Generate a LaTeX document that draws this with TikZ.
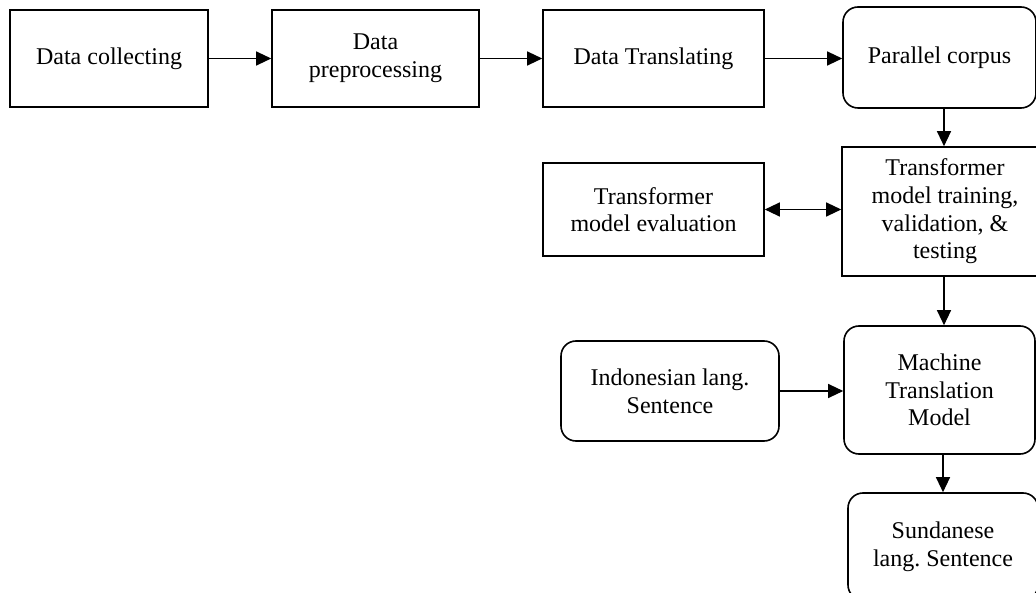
\documentclass[tikz,border=0pt]{standalone}
\usepackage{fontspec}
\setmainfont{Liberation Serif}
\usetikzlibrary{arrows.meta}
\frenchspacing
\begin{document}
\begin{tikzpicture}[x=1pt,y=-1pt,
  box/.style={draw, line width=1.6pt, align=center, inner sep=0pt,
    font=\fontsize{24}{27.6}\selectfont},
  rbox/.style={box, rounded corners=15pt},
  arr/.style={line width=1.2pt, -{Triangle[length=15pt,width=14pt]}},
  darr/.style={line width=1.2pt, {Triangle[length=15pt,width=14pt]}-{Triangle[length=15pt,width=14pt]}}]
\useasboundingbox (0,0) rectangle (1036,593);

% pipeline along the top row
\node[box, minimum width=198pt, minimum height=97pt] (collect) at (109,58.5) {Data collecting};
\node[box, minimum width=207pt, minimum height=97pt] (prep) at (375.5,58.5) {Data\\preprocessing};
\node[box, minimum width=221pt, minimum height=97pt] (transl) at (653.5,58.5) {Data Translating};
\node[rbox, minimum width=193pt, minimum height=101pt] (corpus) at (939.5,57.5) {Parallel corpus};

% training and evaluation
\node[box, minimum width=206pt, minimum height=129pt] (train) at (945,211.5)
  {Transformer\\model training,\\validation, \&\\testing};
\node[box, minimum width=221pt, minimum height=93pt] (eval) at (653.5,209.5)
  {Transformer\\model evaluation};

% translation use
\node[rbox, minimum width=191pt, minimum height=128pt] (mt) at (939.5,390)
  {Machine\\Translation\\Model};
\node[rbox, minimum width=218pt, minimum height=100pt] (indo) at (670,391)
  {Indonesian lang.\\Sentence};
\node[rbox, minimum width=190pt, minimum height=107pt] (sund) at (943,546.5)
  {Sundanese\\lang. Sentence};

% connectors
\draw[arr] (collect.east) -- (prep.west |- collect.east);
\draw[arr] (prep.east) -- (transl.west |- prep.east);
\draw[arr] (transl.east) -- (corpus.west |- transl.east);
\draw[arr] (corpus.south -| 944,0) -- (train.north -| 944,0);
\draw[darr] (eval.east) -- (eval.east -| train.west);
\draw[arr] (train.south -| 944,0) -- (mt.north -| 944,0);
\draw[arr] (indo.east) -- (indo.east -| mt.west);
\draw[arr] (mt.south -| 943,0) -- (sund.north -| 943,0);
\end{tikzpicture}
\end{document}
